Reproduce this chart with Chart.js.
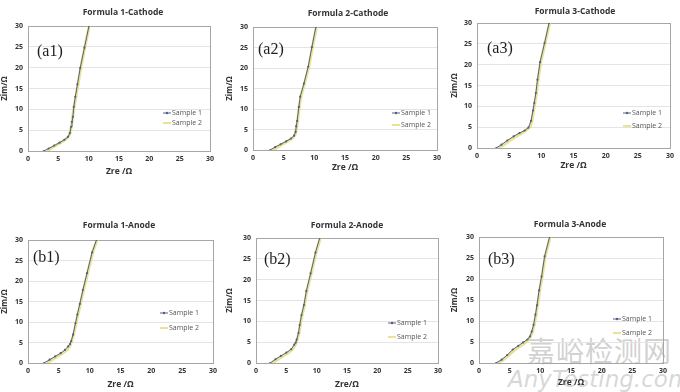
<!DOCTYPE html>
<html>
<head>
<meta charset="utf-8">
<script src="https://cdn.jsdelivr.net/npm/chart.js@4.4.1/dist/chart.umd.min.js"></script>
<style>
  body { margin: 0; background: #fff; width: 680px; height: 392px; overflow: hidden; position: relative; }
  canvas { position: absolute; }
  .wm { position: absolute; color: rgba(170,170,170,0.55); pointer-events: none; white-space: nowrap; }
</style>
</head>
<body>
<div class="wm" style="left:527px;top:330px;font:28px 'Noto Sans CJK SC';letter-spacing:1px;">嘉峪检测网</div>
<div class="wm" style="left:508px;top:366px;font:italic 23px 'DejaVu Sans';color:rgba(175,175,175,0.5);">AnyTesting.com</div>
<script>
// chart text
const panelTitles = ['Formula 1-Cathode', 'Formula 2-Cathode', 'Formula 3-Cathode',
                     'Formula 1-Anode', 'Formula 2-Anode', 'Formula 3-Anode'];
const panelTags = ['(a1)', '(a2)', '(a3)', '(b1)', '(b2)', '(b3)'];
const xAxisTitles = ['Zre /Ω', 'Zre /Ω', 'Zre /Ω', 'Zre /Ω', 'Zre/Ω', 'Zre /Ω'];
const yAxisTitle = 'Zim/Ω';
const seriesNames = ['Sample 1', 'Sample 2'];
const axisMin = 0, axisMax = 30, axisStep = 5;

// Nyquist data, Zre / Zim in ohm
const a1Sample1Zre = [2.6, 3.4, 4.3, 5.2, 6.0, 6.6, 6.9, 7.1, 7.25, 7.4, 7.55, 7.8, 8.15, 8.6, 9.3, 10.05, 10.4];
const a1Sample1Zim = [0, 0.6, 1.3, 2.0, 2.7, 3.4, 4.3, 5.8, 7.0, 8.2, 10.6, 13.0, 16.0, 19.9, 24.8, 30.0, 32.5];
const a1Sample2Zre = [3.1, 3.9, 4.8, 5.7, 6.4, 6.85, 7.1, 7.35, 7.6, 7.9, 8.25, 8.7, 9.35, 10.1, 10.4];
const a1Sample2Zim = [0, 0.7, 1.5, 2.3, 3.0, 3.8, 5.5, 8.0, 10.6, 13.0, 16.0, 19.9, 24.8, 30.0, 32.0];

const a2Sample1Zre = [2.8, 3.6, 4.5, 5.4, 6.2, 6.7, 6.95, 7.05, 7.2, 7.47, 7.7, 8.3, 9.0, 9.6, 10.25, 10.6];
const a2Sample1Zim = [0, 0.7, 1.4, 2.1, 2.8, 3.5, 4.4, 5.8, 7.1, 10.5, 13.0, 16.2, 20.3, 25.1, 30.0, 32.5];
const a2Sample2Zre = [3.2, 4.0, 4.9, 5.8, 6.5, 6.9, 7.1, 7.3, 7.55, 7.8, 8.4, 9.1, 9.7, 10.35, 10.7];
const a2Sample2Zim = [0, 0.7, 1.5, 2.3, 3.0, 3.8, 5.5, 7.5, 10.5, 13.0, 16.2, 20.3, 25.1, 30.0, 32.5];

const a3Sample1Zre = [3.0, 3.8, 4.7, 5.7, 6.6, 7.4, 8.0, 8.4, 8.7, 8.9, 9.15, 9.4, 9.8, 10.5, 11.2, 11.5];
const a3Sample1Zim = [0, 0.8, 1.8, 2.8, 3.6, 4.2, 4.9, 6.5, 9.0, 10.8, 13.2, 16.4, 20.6, 25.2, 30.0, 32.0];
const a3Sample2Zre = [3.35, 4.2, 5.1, 6.0, 6.9, 7.7, 8.3, 8.6, 8.8, 9.0, 9.25, 9.5, 9.9, 10.6, 11.3, 11.6];
const a3Sample2Zim = [0, 0.8, 1.8, 2.7, 3.5, 4.3, 5.2, 7.0, 9.0, 10.8, 13.2, 16.4, 20.6, 25.2, 30.0, 32.0];

const b1Sample1Zre = [2.6, 3.5, 4.4, 5.3, 6.0, 6.5, 6.8, 7.0, 7.3, 7.7, 8.0, 8.4, 8.9, 9.57, 10.4, 11.1, 11.4];
const b1Sample1Zim = [0, 0.8, 1.6, 2.4, 3.2, 4.05, 4.6, 5.3, 6.9, 9.7, 11.8, 14.4, 17.8, 21.9, 27.0, 30.0, 32.0];
const b1Sample2Zre = [3.0, 3.9, 4.8, 5.7, 6.4, 6.8, 7.1, 7.4, 7.8, 8.1, 8.5, 9.0, 9.67, 10.5, 11.2, 11.5];
const b1Sample2Zim = [0, 0.8, 1.6, 2.5, 3.3, 4.2, 5.4, 6.9, 9.7, 11.8, 14.4, 17.8, 21.9, 27.0, 30.0, 32.0];

const b2Sample1Zre = [2.35, 3.2, 4.1, 5.0, 5.8, 6.3, 6.55, 6.7, 7.0, 7.2, 7.5, 7.9, 8.3, 9.0, 9.8, 10.5, 10.8];
const b2Sample1Zim = [0, 0.9, 1.7, 2.5, 3.3, 4.4, 4.9, 5.6, 7.2, 9.1, 11.5, 13.9, 17.3, 21.5, 26.5, 30.0, 32.0];
const b2Sample2Zre = [2.7, 3.5, 4.4, 5.3, 6.0, 6.5, 6.8, 7.1, 7.3, 7.6, 8.0, 8.4, 9.1, 9.9, 10.6, 10.9];
const b2Sample2Zim = [0, 0.8, 1.6, 2.4, 3.3, 4.4, 5.6, 7.2, 9.1, 11.5, 13.9, 17.3, 21.5, 26.5, 30.0, 32.0];

const b3Sample1Zre = [2.8, 3.7, 4.6, 5.5, 6.4, 7.2, 7.9, 8.3, 8.6, 8.9, 9.2, 9.45, 9.8, 10.2, 10.7, 11.5, 11.8];
const b3Sample1Zim = [0, 0.8, 1.9, 3.2, 4.1, 4.9, 5.6, 6.3, 7.5, 9.1, 11.5, 13.7, 17.3, 20.6, 25.4, 30.0, 32.0];
const b3Sample2Zre = [3.1, 4.0, 4.9, 5.8, 6.7, 7.5, 8.1, 8.45, 8.75, 9.0, 9.3, 9.55, 9.9, 10.3, 10.8, 11.6, 11.9];
const b3Sample2Zim = [0, 0.8, 1.9, 3.1, 4.0, 4.8, 5.6, 6.5, 7.6, 9.1, 11.5, 13.7, 17.3, 20.6, 25.4, 30.0, 32.0];

const panelSeries = [
    [[a1Sample1Zre, a1Sample1Zim], [a1Sample2Zre, a1Sample2Zim]],
    [[a2Sample1Zre, a2Sample1Zim], [a2Sample2Zre, a2Sample2Zim]],
    [[a3Sample1Zre, a3Sample1Zim], [a3Sample2Zre, a3Sample2Zim]],
    [[b1Sample1Zre, b1Sample1Zim], [b1Sample2Zre, b1Sample2Zim]],
    [[b2Sample1Zre, b2Sample1Zim], [b2Sample2Zre, b2Sample2Zim]],
    [[b3Sample1Zre, b3Sample1Zim], [b3Sample2Zre, b3Sample2Zim]]
];

// page layout (px): cell = canvas box, plot = chart area, plus title / tag / legend anchors
const layout = [
    { cell: [0, 0, 225, 179],   plot: [28, 26, 210, 151],   title: [123, 13],  tag: [37, 56],   legend: [163, 113, 123] },
    { cell: [225, 0, 450, 175], plot: [253, 27, 437, 150],  title: [348, 14],  tag: [258, 54],  legend: [392, 113, 125] },
    { cell: [450, 0, 680, 173], plot: [477, 23, 670, 148],  title: [575, 12],  tag: [487, 53],  legend: [623, 113, 126] },
    { cell: [0, 200, 225, 392], plot: [28, 240, 213, 363],  title: [119, 226], tag: [33, 262],  legend: [160, 313, 328] },
    { cell: [225, 200, 450, 392], plot: [256, 238, 438, 363], title: [347, 226], tag: [264, 264], legend: [388, 323, 337] },
    { cell: [450, 200, 680, 390], plot: [479, 237, 663, 363], title: [570, 225], tag: [488, 264], legend: [613, 319, 333] }
];

const colors = {
    s1: '#56607c',
    s2: 'rgba(228, 222, 130, 0.85)',
    grid: '#e4e4e4',
    frame: '#a6a6a6',
    text: '#333'
};

const decorPlugin = {
    id: 'decor',
    beforeDatasetsDraw(chart, args, opts) {
        const { ctx, chartArea: a } = chart;
        ctx.save();
        ctx.strokeStyle = colors.frame;
        ctx.lineWidth = 1;
        ctx.strokeRect(Math.round(a.left) + 0.5, Math.round(a.top) + 0.5,
                       Math.round(a.right - a.left), Math.round(a.bottom - a.top));
        ctx.restore();
    },
    afterDraw(chart, args, opts) {
        const { ctx } = chart;
        const box = opts.box;
        const ox = box.cell[0], oy = box.cell[1];
        ctx.save();
        // title
        ctx.fillStyle = '#333';
        ctx.font = 'bold 8.5px "Open Sans"';
        ctx.textAlign = 'center';
        ctx.textBaseline = 'middle';
        ctx.fillText(opts.title, box.title[0] - ox, box.title[1] - oy);
        // panel tag
        ctx.fillStyle = '#1e1e1e';
        ctx.font = '16px "Liberation Serif"';
        ctx.textAlign = 'left';
        ctx.textBaseline = 'alphabetic';
        ctx.fillText(opts.tag, box.tag[0] - ox, box.tag[1] - oy);
        // legend
        const lx = box.legend[0] - ox;
        chart.data.datasets.forEach((ds, i) => {
            const ly = box.legend[1 + i] - oy;
            ctx.strokeStyle = ds.borderColor;
            ctx.lineWidth = i === 0 ? 1 : 2;
            ctx.beginPath();
            ctx.moveTo(lx, ly);
            ctx.lineTo(lx + 8, ly);
            ctx.stroke();
            if (i === 0) {
                ctx.fillStyle = ds.borderColor;
                ctx.beginPath();
                ctx.arc(lx + 4, ly, 1.2, 0, Math.PI * 2);
                ctx.fill();
            }
            ctx.fillStyle = '#555';
            ctx.font = '7px "Open Sans"';
            ctx.textBaseline = 'middle';
            ctx.fillText(ds.label, lx + 9, ly);
        });
        ctx.restore();
    }
};

function buildPanel(idx) {
    const box = layout[idx];
    const [cl, ct, cr, cb] = box.cell;
    const [pl, pt, pr, pb] = box.plot;
    const canvas = document.createElement('canvas');
    canvas.width = cr - cl;
    canvas.height = cb - ct;
    canvas.style.left = cl + 'px';
    canvas.style.top = ct + 'px';
    canvas.style.width = (cr - cl) + 'px';
    canvas.style.height = (cb - ct) + 'px';
    document.body.appendChild(canvas);

    const [s1, s2] = panelSeries[idx];
    const toPoints = ([xs, ys]) => xs.map((x, i) => ({ x, y: ys[i] }));

    const tickFont = { family: 'Open Sans', size: 7, weight: 'bold' };

    new Chart(canvas.getContext('2d'), {
        type: 'scatter',
        data: {
            datasets: [
                {
                    label: seriesNames[0],
                    data: toPoints(s1),
                    showLine: true,
                    borderColor: colors.s1,
                    backgroundColor: colors.s1,
                    borderWidth: 1,
                    pointRadius: 1.1,
                    pointBorderWidth: 0,
                    tension: 0
                },
                {
                    label: seriesNames[1],
                    data: toPoints(s2),
                    showLine: true,
                    borderColor: colors.s2,
                    backgroundColor: colors.s2,
                    borderWidth: 3,
                    pointRadius: 0,
                    tension: 0
                }
            ]
        },
        options: {
            responsive: false,
            animation: false,
            devicePixelRatio: 1,
            layout: { padding: { top: pt - ct, right: cr - pr, left: 0, bottom: 0 } },
            scales: {
                x: {
                    type: 'linear',
                    min: axisMin,
                    max: axisMax,
                    ticks: { stepSize: axisStep, font: tickFont, color: colors.text, padding: 4 },
                    grid: { display: false, drawTicks: false },
                    border: { display: false },
                    title: {
                        display: true,
                        text: xAxisTitles[idx],
                        font: { family: 'Open Sans', size: 8.5, weight: 'bold' },
                        color: colors.text,
                        padding: { top: 2, bottom: 2 }
                    },
                    afterFit(scale) { scale.height = cb - pb; }
                },
                y: {
                    type: 'linear',
                    min: axisMin,
                    max: axisMax,
                    ticks: { stepSize: axisStep, font: tickFont, color: colors.text, padding: 5 },
                    grid: { color: colors.grid, drawTicks: false },
                    border: { display: false },
                    title: {
                        display: true,
                        text: yAxisTitle,
                        font: { family: 'Open Sans', size: 8, weight: 'bold' },
                        color: colors.text,
                        padding: { top: 0, bottom: 0 }
                    },
                    afterFit(scale) { scale.width = pl - cl; }
                }
            },
            plugins: {
                legend: { display: false },
                tooltip: { enabled: false },
                decor: { box, title: panelTitles[idx], tag: panelTags[idx] }
            }
        },
        plugins: [decorPlugin]
    });
}

layout.forEach((_, i) => buildPanel(i));
</script>
</body>
</html>
